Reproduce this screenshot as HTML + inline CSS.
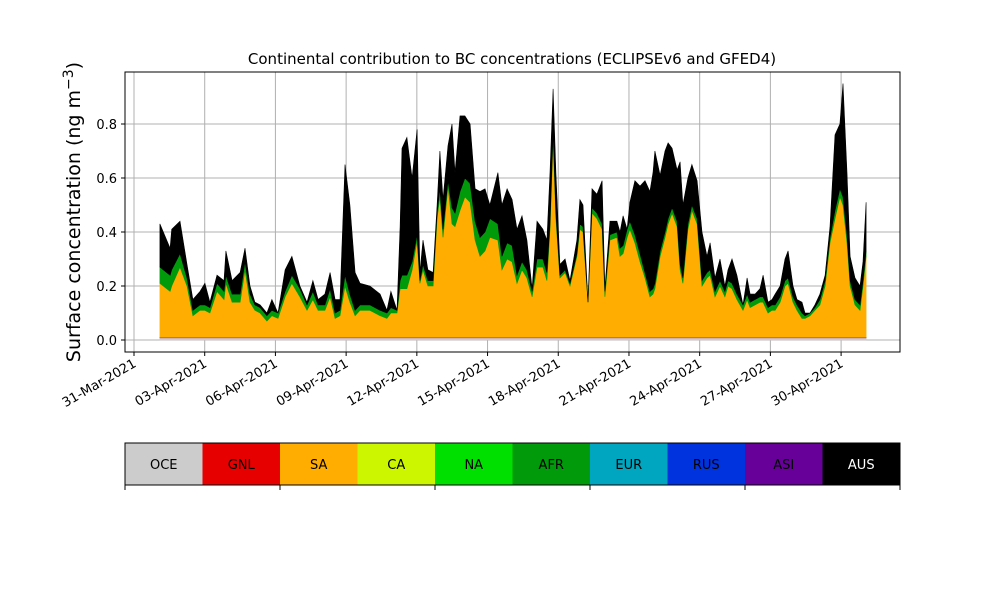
<!DOCTYPE html>
<html><head><meta charset="utf-8"><style>
body{margin:0;background:#fff;}
svg{display:block;font-family:"DejaVu Sans","Liberation Sans",sans-serif;}
</style></head><body>
<svg id="chart" width="1000" height="600" viewBox="0 0 1000 600">
<rect width="1000" height="600" fill="#fff"/>
<text x="512" y="64" font-size="15" text-anchor="middle">Continental contribution to BC concentrations (ECLIPSEv6 and GFED4)</text>
<g id="grid"></g>
<g id="areas"></g>
<g id="axes"></g>
<text transform="translate(80,212) rotate(-90)" font-size="19" text-anchor="middle">Surface concentration (ng m<tspan dy="-7" font-size="14">−3</tspan><tspan dy="7">)</tspan></text>
<g id="legend"></g>
</svg>
<script>
const times=[1.10,1.53,1.60,1.95,2.25,2.50,2.80,3.01,3.22,3.52,3.82,3.90,4.16,4.50,4.71,4.92,5.13,5.35,5.64,5.85,6.11,6.41,6.70,7.04,7.34,7.59,7.81,8.10,8.32,8.53,8.74,8.95,9.16,9.38,9.59,10.01,10.44,10.73,10.90,11.16,11.29,11.37,11.58,11.80,12.01,12.13,12.26,12.47,12.69,12.86,12.98,13.11,13.32,13.49,13.62,13.83,14.04,14.26,14.47,14.68,14.89,15.10,15.44,15.61,15.83,16.04,16.25,16.46,16.67,16.89,17.10,17.35,17.52,17.65,17.78,17.90,18.07,18.29,18.50,18.79,18.92,19.05,19.26,19.43,19.64,19.86,19.98,20.19,20.49,20.62,20.75,20.92,21.04,21.25,21.47,21.68,21.89,22.02,22.10,22.32,22.53,22.66,22.83,23.04,23.17,23.29,23.50,23.67,23.89,24.10,24.31,24.44,24.65,24.86,25.07,25.20,25.37,25.58,25.84,26.01,26.14,26.35,26.56,26.69,26.90,27.07,27.20,27.41,27.62,27.75,27.96,28.13,28.34,28.47,28.68,28.89,29.10,29.32,29.53,29.74,29.95,30.08,30.25,30.38,30.59,30.80,30.93,31.06];
const sa=[.20,.17,.19,.26,.19,.08,.10,.10,.09,.17,.14,.20,.13,.13,.25,.13,.10,.09,.06,.08,.07,.15,.20,.15,.10,.14,.10,.10,.15,.07,.08,.19,.13,.08,.10,.10,.08,.07,.09,.09,.18,.18,.18,.25,.36,.20,.25,.19,.19,.44,.52,.37,.56,.42,.41,.47,.52,.50,.36,.30,.32,.37,.36,.25,.29,.28,.20,.25,.22,.15,.26,.26,.21,.40,.74,.44,.22,.24,.19,.30,.40,.39,.13,.46,.44,.40,.15,.36,.37,.30,.31,.37,.40,.35,.28,.22,.15,.16,.18,.30,.37,.42,.46,.41,.25,.20,.40,.47,.42,.19,.22,.23,.15,.19,.15,.19,.18,.14,.10,.14,.11,.12,.13,.13,.09,.10,.10,.13,.19,.20,.13,.10,.07,.07,.08,.10,.12,.19,.35,.44,.52,.49,.35,.19,.12,.10,.19,.30];
const afr=[.06,.06,.06,.05,.03,.02,.02,.02,.02,.03,.03,.03,.03,.03,.03,.03,.02,.02,.02,.02,.02,.02,.03,.03,.02,.03,.02,.02,.03,.02,.02,.04,.03,.02,.02,.02,.02,.02,.02,.01,.03,.05,.05,.03,.02,.01,.02,.02,.02,.02,.03,.03,.02,.06,.05,.07,.07,.07,.07,.07,.07,.07,.06,.05,.06,.06,.03,.03,.03,.02,.03,.03,.03,.02,.02,.02,.01,.01,.01,.01,.02,.02,.00,.02,.02,.02,.02,.02,.02,.03,.03,.03,.03,.03,.03,.02,.02,.02,.02,.02,.02,.02,.02,.02,.02,.02,.02,.02,.02,.02,.02,.02,.02,.02,.02,.02,.02,.02,.02,.02,.02,.02,.02,.02,.02,.02,.02,.02,.02,.02,.02,.02,.02,.01,.01,.01,.02,.02,.02,.03,.03,.03,.03,.02,.02,.02,.02,.02];
const aus=[.16,.10,.15,.12,.05,.04,.05,.08,.02,.03,.04,.09,.05,.08,.05,.03,.01,.01,.01,.04,.00,.08,.07,.01,.01,.04,.02,.04,.06,.05,.04,.41,.33,.14,.08,.07,.06,.01,.06,.00,.20,.47,.51,.31,.39,.03,.09,.04,.03,.03,.14,.11,.13,.31,.15,.28,.23,.22,.12,.17,.16,.05,.19,.19,.20,.17,.17,.17,.11,.01,.14,.11,.12,.19,.16,.15,.04,.04,.01,.05,.09,.08,.00,.07,.07,.16,.01,.05,.04,.06,.11,.00,.07,.20,.25,.34,.37,.43,.49,.28,.30,.28,.22,.19,.38,.27,.17,.15,.14,.18,.06,.10,.05,.08,.02,.04,.09,.07,.00,.06,.03,.02,.03,.08,.02,.02,.04,.04,.08,.10,.04,.02,.04,.01,.00,.01,.02,.02,.04,.28,.24,.42,.23,.09,.08,.07,.07,.18];
const oceLevel=0.008;
const gnlLevel=0.002;
const yTicks=[0.0,0.2,0.4,0.6,0.8];
const xTickDays=[0,3,6,9,12,15,18,21,24,27,30];
const xTickLabels=["31-Mar-2021","03-Apr-2021","06-Apr-2021","09-Apr-2021","12-Apr-2021","15-Apr-2021","18-Apr-2021","21-Apr-2021","24-Apr-2021","27-Apr-2021","30-Apr-2021"];
const regions=["OCE","GNL","SA","CA","NA","AFR","EUR","RUS","ASI","AUS"];
const regionColors=["#cccccc","#e60000","#ffad00","#ccf500","#00e000","#009a0a","#00a5bf","#0033dd","#660099","#000000"];

const NS="http://www.w3.org/2000/svg";
const L=125,R=900,T=72,B=352;
const xs=d=>134+d*23.57;
const ys=v=>340-v*270;
function mk(tag,attrs,parent){const e=document.createElementNS(NS,tag);for(const k in attrs)e.setAttribute(k,attrs[k]);parent.appendChild(e);return e;}
const grid=document.getElementById('grid'),areas=document.getElementById('areas'),axes=document.getElementById('axes'),legend=document.getElementById('legend');

yTicks.forEach(v=>{
  const g=mk('line',{x1:L,x2:R,y1:ys(v),y2:ys(v),stroke:'#b0b0b0','stroke-width':1},grid);
  
  
  const t=mk('line',{x1:L-4,x2:L,y1:ys(v),y2:ys(v),stroke:'#000'},axes);
  
  
  const lb=mk('text',{x:L-8,y:ys(v)+5,'font-size':13,'text-anchor':'end'},axes);
  lb.textContent=v.toFixed(1);
  
  
});
xTickDays.forEach((d,i)=>{
  const g=mk('line',{x1:xs(d),x2:xs(d),y1:T,y2:B,stroke:'#b0b0b0','stroke-width':1},grid);
  
  
  const t=mk('line',{x1:xs(d),x2:xs(d),y1:B,y2:B+4,stroke:'#000'},axes);
  
  
  const lb=mk('text',{'font-size':13,'text-anchor':'end',transform:`translate(${xs(d)+3},${B+14}) rotate(-30)`},axes);
  lb.textContent=xTickLabels[i];
  
  
});

const n=times.length;
const base=new Array(n).fill(0);
function layer(vals,color,name){
  const top=base.map((b,i)=>b+vals[i]);
  let d='M'+times.map((t,i)=>xs(t).toFixed(1)+','+ys(top[i]).toFixed(1)).join('L');
  for(let i=n-1;i>=0;i--)d+='L'+xs(times[i]).toFixed(1)+','+ys(base[i]).toFixed(1);
  const p=mk('path',{d:d+'Z',fill:color,stroke:color,'stroke-width':0.6},areas);
  
  
  for(let i=0;i<n;i++)base[i]=top[i];
}
layer(times.map(()=>oceLevel),'#cccccc','area-oce');
layer(times.map(()=>gnlLevel),'#e60000','area-gnl');
layer(sa,'#ffad00','area-sa');
layer(afr,'#009a0a','area-afr');
layer(aus,'#000000','area-aus');

const frame=mk('rect',{x:L,y:T,width:R-L,height:B-T,fill:'none',stroke:'#000','stroke-width':1},axes);



const cw=(R-L)/regions.length;
regions.forEach((r,i)=>{
  const c=mk('rect',{x:L+i*cw,y:443,width:cw+0.5,height:42,fill:regionColors[i]},legend);
  
  
  const t=mk('text',{x:L+i*cw+cw/2,y:469,'font-size':13,'text-anchor':'middle',fill:r==='AUS'?'#fff':'#000'},legend);
  t.textContent=r;
  
  
});
const lf=mk('rect',{x:L,y:443,width:R-L,height:42,fill:'none',stroke:'#000'},legend);


for(let k=0;k<=5;k++){
  const tk=mk('line',{x1:L+k*2*cw,x2:L+k*2*cw,y1:485,y2:490,stroke:'#000'},legend);
  
  
}
</script>
</body></html>
